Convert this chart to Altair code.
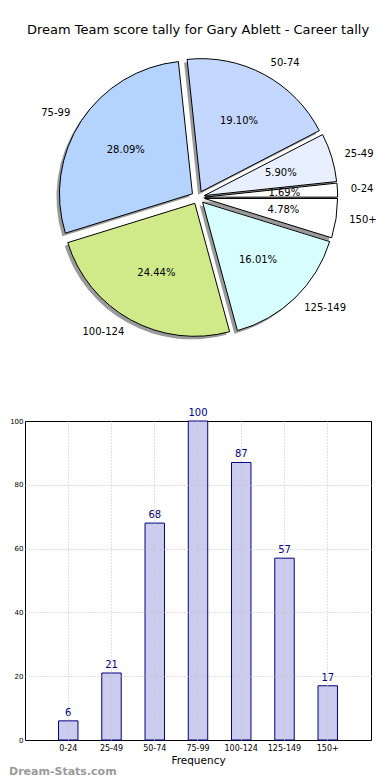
import altair as alt
import pandas as pd

# ---------------- data ----------------
categories = ["0-24", "25-49", "50-74", "75-99", "100-124", "125-149", "150+"]
counts = [6, 21, 68, 100, 87, 57, 17]
pie_colors = ["#ffffff", "#e8f0ff", "#c4d8ff", "#b4d4ff", "#d0ea8a", "#d8ffff", "#ffffff"]
y_ticks = [0, 20, 40, 60, 80, 100]
title_text = "Dream Team score tally for Gary Ablett - Career tally"
x_title = "Frequency"
watermark = ["Dream-Stats.com"]

# ---------------- layout constants ----------------
R = 133          # pie radius in px
W = 346          # panel width
H_PIE = 297
H_BAR = 319
EXPLODE = 0.05
FONT = "DejaVu Sans"

df = pd.DataFrame({"cat": categories, "count": counts, "idx": list(range(len(categories)))})

# Vega angles run clockwise from 12 o'clock; the original pie runs
# counter-clockwise from 3 o'clock, so walk the slices in reverse order
base = (
    alt.Chart(df)
    .transform_joinaggregate(total="sum(count)")
    .transform_window(cum="sum(count)", sort=[alt.SortField("idx", order="descending")], frame=[None, 0])
    .transform_calculate(
        t1="PI/2 + 2*PI*datum.cum/datum.total",
        t0="PI/2 + 2*PI*(datum.cum - datum.count)/datum.total",
    )
    .transform_calculate(mid="(datum.t0 + datum.t1)/2")
    .transform_calculate(
        ex=f"{EXPLODE}*sin(datum.mid)",
        ey=f"{EXPLODE}*cos(datum.mid)",
    )
    .transform_calculate(
        px="datum.ex + 0.6*sin(datum.mid)",
        py="datum.ey + 0.6*cos(datum.mid)",
        lx="datum.ex + 1.1*sin(datum.mid)",
        ly="datum.ey + 1.1*cos(datum.mid)",
        pct="format(100*datum.count/datum.total, '.2f') + '%'",
    )
)

dx = W / (2 * R)
dy = H_PIE / (2 * R)
xsc = alt.Scale(domain=[-dx, dx], nice=False, zero=False)
ysc = alt.Scale(domain=[-dy, dy], nice=False, zero=False)

theta = alt.Theta("t0:Q", scale=None)

shadow = base.mark_arc(radius=R, fill="#9a9a9a", xOffset=-3, yOffset=3).encode(
    x=alt.X("ex:Q", scale=xsc, axis=None),
    y=alt.Y("ey:Q", scale=ysc, axis=None),
    theta=theta,
    theta2="t1:Q",
)
slices = base.mark_arc(radius=R, stroke="black", strokeWidth=1).encode(
    x=alt.X("ex:Q", scale=xsc, axis=None),
    y=alt.Y("ey:Q", scale=ysc, axis=None),
    theta=theta,
    theta2="t1:Q",
    fill=alt.Fill("cat:N", scale=alt.Scale(domain=categories, range=pie_colors), legend=None),
)
pct_text = base.mark_text(fontSize=10, font=FONT, color="black").encode(
    x=alt.X("px:Q", scale=xsc, axis=None),
    y=alt.Y("py:Q", scale=ysc, axis=None),
    text="pct:N",
)
lab_right = base.transform_filter("datum.lx >= 0").mark_text(
    fontSize=10, font=FONT, color="black", align="left", baseline="middle"
).encode(
    x=alt.X("lx:Q", scale=xsc, axis=None),
    y=alt.Y("ly:Q", scale=ysc, axis=None),
    text="cat:N",
)
lab_left = base.transform_filter("datum.lx < 0").mark_text(
    fontSize=10, font=FONT, color="black", align="right", baseline="middle"
).encode(
    x=alt.X("lx:Q", scale=xsc, axis=None),
    y=alt.Y("ly:Q", scale=ysc, axis=None),
    text="cat:N",
)

pie = alt.layer(shadow, slices, pct_text, lab_right, lab_left).properties(
    width=W,
    height=H_PIE,
    title=alt.TitleParams(title_text, fontSize=13, font=FONT, fontWeight="normal", offset=12, color="black"),
    view=alt.ViewBackground(strokeWidth=0),
)

# ---------------- bar chart ----------------
bdf = pd.DataFrame({"cat": categories, "count": counts})
grid_color = "#c0c0c0"
bx = alt.X(
    "cat:N",
    sort=categories,
    scale=alt.Scale(paddingInner=0.55, paddingOuter=0.775),
    axis=alt.Axis(
        title=x_title, labelAngle=0, labelFontSize=8, labelFont=FONT, titleFont=FONT,
        titleFontSize=10.5, titleFontWeight="normal", titleColor="black", labelColor="black",
        grid=True, gridDash=[1, 2], gridColor=grid_color, ticks=False, domain=False,
        zindex=1, bandPosition=0.5, labelPadding=4, titlePadding=3,
    ),
)
by = alt.Y(
    "count:Q",
    scale=alt.Scale(domain=[0, 100], nice=False),
    axis=alt.Axis(
        values=y_ticks, title=None, labelFontSize=7, labelFont=FONT, labelColor="black",
        grid=True, gridDash=[1, 2], gridColor=grid_color,
        gridOpacity={"condition": {"test": "datum.value == 0 || datum.value == 100", "value": 0}, "value": 1},
        ticks=False, tickSize=0, domain=False, zindex=1, labelPadding=2, minExtent=0,
    ),
)
bars = alt.Chart(bdf).mark_bar(fill="#ccccee", stroke="#000080", strokeWidth=1).encode(x=bx, y=by)
bar_text = alt.Chart(bdf).mark_text(
    baseline="bottom", dy=-3, color="#000080", fontSize=10, font=FONT
).encode(x=alt.X("cat:N", sort=categories), y="count:Q", text="count:Q")
wm = alt.Chart(pd.DataFrame({"t": watermark})).mark_text(
    align="left", baseline="alphabetic", fontSize=11, fontWeight="bold", font=FONT, color="#9a9a9a"
).encode(x=alt.value(-16), y=alt.value(H_BAR + 35), text="t:N")

bar = alt.layer(bars, bar_text, wm).properties(
    width=W,
    height=H_BAR,
    view=alt.ViewBackground(stroke="black", strokeWidth=1),
)

chart = (
    alt.vconcat(pie, bar, spacing=61)
    .properties(padding={"left": 0, "top": 16, "right": 0, "bottom": 0})
    .configure(font=FONT)
    .configure_view(strokeWidth=0)
)

chart.save("out.html", embed_options={"renderer": "svg", "actions": False})
